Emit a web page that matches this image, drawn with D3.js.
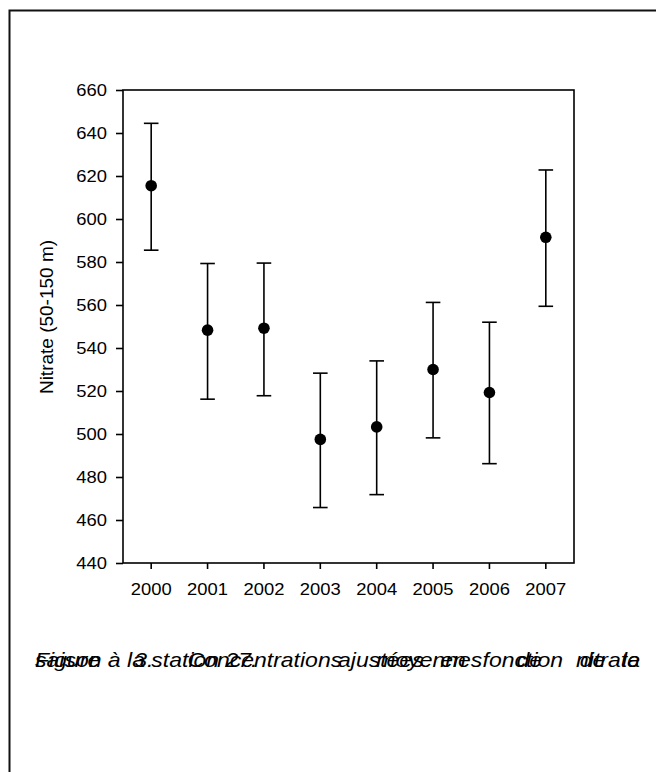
<!DOCTYPE html>
<html>
<head>
<meta charset="utf-8">
<script src="https://cdn.jsdelivr.net/npm/d3@7"></script>
<style>
  html, body { margin: 0; padding: 0; background: #fff; }
  svg { display: block; }
  text { font-family: "Liberation Sans", Arial, sans-serif; fill: #000; }
</style>
</head>
<body>
<svg id="chart" width="656" height="772"></svg>
<script>
const years = ["2000", "2001", "2002", "2003", "2004", "2005", "2006", "2007"];
const means = [615.5, 548.3, 549.2, 497.5, 503.3, 530.0, 519.3, 591.5];
const upper = [644.5, 579.3, 579.5, 528.3, 534.0, 561.2, 552.0, 622.8];
const lower = [585.5, 516.2, 517.8, 465.8, 471.8, 498.2, 486.2, 559.4];
const yTicks = [440, 460, 480, 500, 520, 540, 560, 580, 600, 620, 640, 660];
const yLabel = "Nitrate (50-150 m)";
const captionLine1 = "Figure 3. Concentrations moyennes de nitrate";
const captionLine2a = "saison à la station 27.";
const captionLine2b = "ajustées en fonction de la";

(function () {
const svg = d3.select("#chart");
const SX = 1.15; // horizontal stretch of the original typeface

// page frame
svg.append("path")
  .attr("d", "M9.5,772 V10.5 H656")
  .attr("fill", "none").attr("stroke", "#111").attr("stroke-width", 2);

const pLeft = 123, pRight = 574, pTop = 90, pBottom = 563;

const x = d3.scaleBand().domain(years).range([pLeft, pRight]).padding(0);
const y = d3.scaleLinear().domain([440, 660]).range([pBottom, pTop]);

const data = years.map((yr, i) => ({ yr, m: means[i], hi: upper[i], lo: lower[i] }));

// plot box
svg.append("rect")
  .attr("x", pLeft).attr("y", pTop)
  .attr("width", pRight - pLeft).attr("height", pBottom - pTop)
  .attr("fill", "none").attr("stroke", "#000").attr("stroke-width", 1.6);

function stretchLabels(sel) {
  sel.each(function () {
    const t = d3.select(this);
    const tx = +t.attr("x") || 0;
    const ty = +t.attr("y") || 0;
    t.attr("x", 0).attr("y", 0)
     .attr("transform", `translate(${tx},${ty}) scale(${SX},1)`);
  });
}

// axes
const yAxis = d3.axisLeft(y).tickValues(yTicks).tickSize(7).tickPadding(9);
const gy = svg.append("g").attr("transform", `translate(${pLeft},0)`).call(yAxis);
gy.select(".domain").remove();
gy.selectAll("line").attr("stroke", "#000").attr("stroke-width", 1.6);
gy.selectAll("text").style("font-size", "16px").attr("fill", "#000").attr("dy", "0.36em");
stretchLabels(gy.selectAll("text"));

const xAxis = d3.axisBottom(x).tickSize(6).tickPadding(14.6);
const gx = svg.append("g").attr("transform", `translate(0,${pBottom})`).call(xAxis);
gx.select(".domain").remove();
gx.selectAll("line").attr("stroke", "#000").attr("stroke-width", 1.6);
gx.selectAll("text").style("font-size", "16px").attr("fill", "#000");
stretchLabels(gx.selectAll("text"));

// y label
svg.append("text")
  .attr("transform", `translate(53,317) rotate(-90)`)
  .attr("text-anchor", "middle")
  .style("font-size", "19px")
  .text(yLabel);

// error bars
const cx = d => x(d.yr) + x.bandwidth() / 2;
const g = svg.append("g");
g.selectAll(".stem").data(data).join("line")
  .attr("x1", cx).attr("x2", cx)
  .attr("y1", d => y(d.hi)).attr("y2", d => y(d.lo))
  .attr("stroke", "#000").attr("stroke-width", 1.6);
g.selectAll(".capHi").data(data).join("line")
  .attr("x1", d => cx(d) - 7.3).attr("x2", d => cx(d) + 7.3)
  .attr("y1", d => y(d.hi)).attr("y2", d => y(d.hi))
  .attr("stroke", "#000").attr("stroke-width", 1.6);
g.selectAll(".capLo").data(data).join("line")
  .attr("x1", d => cx(d) - 7.3).attr("x2", d => cx(d) + 7.3)
  .attr("y1", d => y(d.lo)).attr("y2", d => y(d.lo))
  .attr("stroke", "#000").attr("stroke-width", 1.6);
g.selectAll("circle").data(data).join("circle")
  .attr("cx", cx).attr("cy", d => y(d.m)).attr("r", 5.8)
  .attr("fill", "#000");

// caption (overlapping justified lines, as in the source)
function captionText(str, x0, x1, baseline) {
  const t = svg.append("text")
    .attr("transform", `translate(${x0},${baseline}) scale(${SX},1)`)
    .style("font-size", "20px").style("font-style", "italic")
    .text(str);
  if (x1 != null) {
    const w = t.node().getComputedTextLength();
    const gaps = str.split(" ").length - 1;
    if (gaps > 0) t.style("word-spacing", (((x1 - x0) / SX - w) / gaps) + "px");
  }
  return t;
}
captionText(captionLine1, 35, 640, 667);
captionText(captionLine2a, 35, null, 667);
captionText(captionLine2b, 338, 640, 667);
})();
</script>
</body>
</html>
